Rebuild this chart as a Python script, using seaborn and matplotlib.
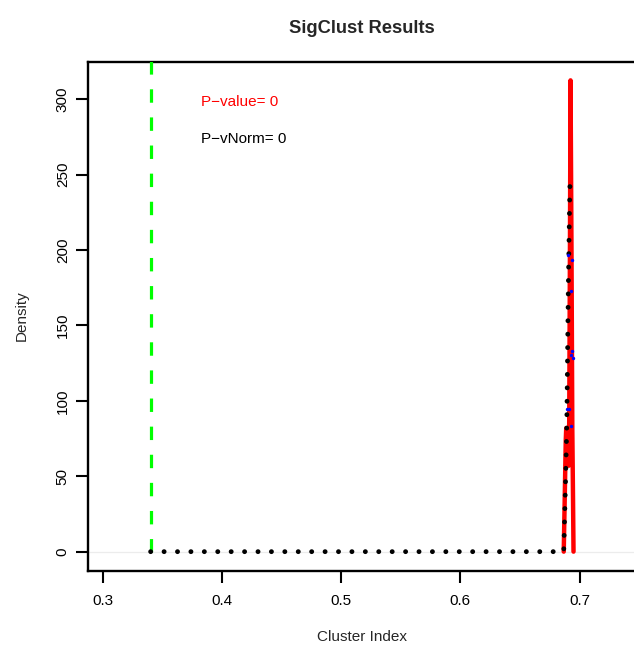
import matplotlib
matplotlib.use("Agg")
import matplotlib.pyplot as plt
import seaborn as sns
import pandas as pd

# ---- data ----
red_x = [0.6867, 0.6875, 0.6884, 0.6888, 0.6898, 0.6909, 0.6913, 0.6919, 0.6924,
         0.6932, 0.6939, 0.6945, 0.6949]
red_y = [0, 34, 74, 82, 71, 57, 87, 200, 312.6, 200, 80, 34, 0]

black_x = [0.3403, 0.6867, 0.6880, 0.6892, 0.6905, 0.6912, 0.6918, 0.6922]
black_y = [0, 0, 40, 81, 173, 210, 240, 251]

blue_x = [0.6900, 0.6939, 0.6928, 0.6934, 0.6928, 0.6942, 0.6892, 0.6914, 0.6925]
blue_y = [196.8, 193.2, 172.9, 133.3, 130.6, 128.6, 94.8, 94.8, 83.6]

observed_index = 0.3403
pvalue_text = "P\u2212value= 0"
pvnorm_text = "P\u2212vNorm= 0"
x_ticks = [0.3, 0.4, 0.5, 0.6, 0.7]
x_tick_labels = ["0.3", "0.4", "0.5", "0.6", "0.7"]
y_ticks = [0, 50, 100, 150, 200, 250, 300]
y_tick_labels = ["0", "50", "100", "150", "200", "250", "300"]

sns.set_style("ticks")
plt.rcParams["font.family"] = ["Liberation Sans", "DejaVu Sans"]

W, H = 634, 648
fig = plt.figure(figsize=(W / 100, H / 100), dpi=100)
left, right, top, bottom = 88, 636, 61.5, 570.5
ax = fig.add_axes([left / W, (H - bottom) / H, (right - left) / W, (bottom - top) / H])

red_df = pd.DataFrame({"x": red_x, "y": red_y})
black_df = pd.DataFrame({"x": black_x, "y": black_y})
blue_df = pd.DataFrame({"x": blue_x, "y": blue_y})

ax.axhline(0, color="#ECECEC", lw=0.9, zorder=0)
sns.lineplot(data=red_df, x="x", y="y", sort=False, estimator=None, color="#FF0000",
             lw=3.2, ax=ax, zorder=2, solid_joinstyle="round", solid_capstyle="round")
ax.vlines(observed_index, 0, 340, colors="#00FF00", lw=2.3, linestyles=[(0, (4.2, 4.6))],
          zorder=3)
sns.lineplot(data=black_df, x="x", y="y", sort=False, estimator=None, color="black",
             lw=3.5, ax=ax, zorder=4, linestyle=(0, (0.01, 2.75)), dash_capstyle="round")
sns.scatterplot(data=blue_df, x="x", y="y", color="#0000FF", s=6, linewidth=0,
                ax=ax, zorder=5)

ax.set_xlim(0.28776, 0.3 + (right - 102.6) / 1192.5)
ax.set_ylim(-12.5, 325.1)

ax.set_xticks(x_ticks)
ax.set_xticklabels(x_tick_labels)
ax.set_yticks(y_ticks)
ax.set_yticklabels(y_tick_labels, rotation=90, va="center")
ax.tick_params(axis="both", direction="out", length=8.6, width=1.5, labelsize=11,
               colors="black")
ax.tick_params(axis="x", pad=8.4)
ax.tick_params(axis="y", pad=4.5)
for s in ax.spines.values():
    s.set_visible(True)
    s.set_linewidth(1.7)
    s.set_color("black")
ax.set_xlabel("")
ax.set_ylabel("")

ax.text(0.3823, 298.4, pvalue_text, color="#FF0000", fontsize=11, ha="left", va="center")
ax.text(0.3823, 273.5, pvnorm_text, color="black", fontsize=11, ha="left", va="center")

fig.text(362 / W, 1 - 33 / H, "SigClust Results", fontsize=13.2, fontweight="bold",
         ha="center", va="baseline")
fig.text(362 / W, 1 - 637 / H, "Cluster Index", fontsize=11, ha="center", va="center")
fig.text(21.5 / W, 1 - 316 / H, "Density", fontsize=11, ha="center", va="center",
         rotation=90)

fig.savefig("out.png", dpi=100)
